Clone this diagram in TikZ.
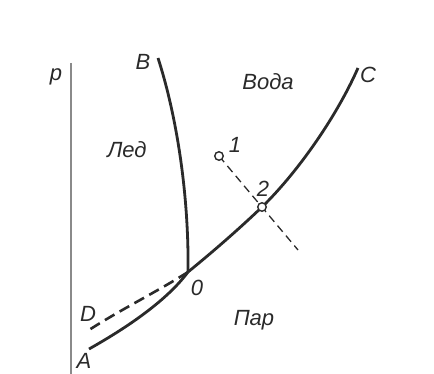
\documentclass[tikz,border=0pt]{standalone}
\usepackage{fontspec}
\setmainfont{Liberation Sans}
\usepackage{tikz}
\usepackage{xcolor}
\definecolor{inkgray}{HTML}{2A2A2A}
\definecolor{axisgray}{HTML}{8A8A8A}

\begin{document}
\begin{tikzpicture}[
      x=1pt, y=-1pt,
      every node/.style={font=\fontsize{22}{26}\selectfont\itshape, text=inkgray, inner sep=1pt},
      curve/.style={line width=2.8pt, draw=inkgray},
      axis/.style={line width=1.8pt, draw=axisgray},
      dashcurve/.style={line width=2.6pt, draw=inkgray, dash pattern=on 11pt off 6pt},
      guide/.style={line width=1.3pt, draw=inkgray, dash pattern=on 8pt off 5pt},
      state/.style={circle, draw=inkgray, line width=1.4pt, fill=white,
        inner sep=0pt, minimum size=8.5pt}
    ]
      \useasboundingbox (0,0) rectangle (434,374);
      % axis and curve ends
      \coordinate (ptop) at (71,63);
      \coordinate (pbot) at (71,374);
      \coordinate (O) at (188,272);
      \coordinate (Bend) at (158,58);
      \coordinate (Cend) at (358,68);
      \coordinate (Aend) at (89,349);
      \coordinate (Dend) at (89,330);
      \coordinate (s1) at (219,156);
      \coordinate (s2) at (262,207);
      \coordinate (gend) at (298,250);

      \draw[axis] (ptop) -- (pbot);
      \draw[curve] (O) .. controls (189,200) and (178,120) .. (Bend);
      \draw[curve] (O) .. controls (215,250) and (240,228) .. (s2)
        .. controls (295,175) and (335,120) .. (Cend);
      \draw[curve] (O) .. controls (165,303) and (121,331) .. (Aend);
      \draw[dashcurve] (O) .. controls (160,290) and (120,310) .. (Dend);
      \draw[guide] (s1) -- (gend);
      \node[state] (one) at (s1) {};
      \node[state] (two) at (s2) {};

      % labels
      \node (lp) at (56,77) {p};
      \node (lB) at (143,62) {B};
      \node (lC) at (368,75) {C};
      \node (lwater) at (268,82) {Вода};
      \node (lice) at (127,150) {Лед};
      \node (lone) at (235,145) {1};
      \node (ltwo) at (263,189) {2};
      \node (lO) at (197,288) {0};
      \node (lD) at (88,314) {D};
      \node (lvap) at (254,320) {Пар};
      \node[inner sep=0pt] (lA) at (84,361) {A};
    \end{tikzpicture}
\end{document}
